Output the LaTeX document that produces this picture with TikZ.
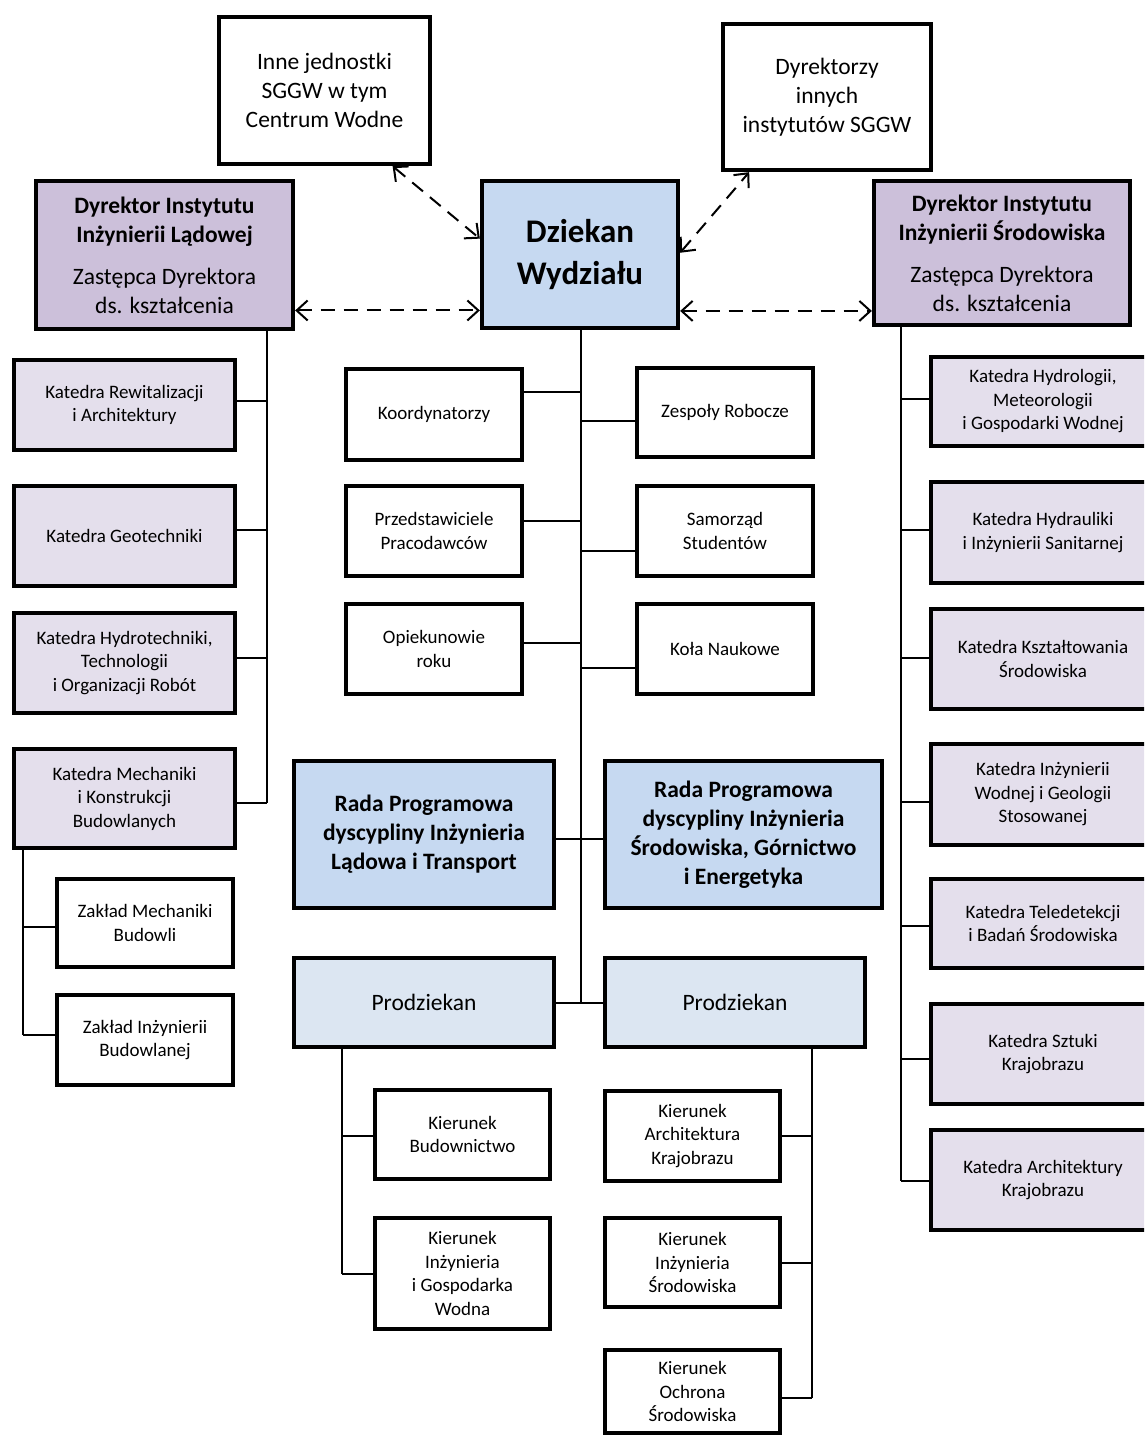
\documentclass[tikz,border=0pt]{standalone}
\usepackage{fontspec}
\setmainfont{Carlito}
\usetikzlibrary{arrows.meta}
\definecolor{purp}{HTML}{CCC0DA}
\definecolor{lpurp}{HTML}{E4DFEC}
\definecolor{dblue}{HTML}{C6D9F1}
\definecolor{lblue}{HTML}{DCE6F2}
\begin{document}
\begin{tikzpicture}[x=1pt,y=-1pt,
  bx/.style={draw, line width=4.3pt, rectangle, align=center, inner sep=0pt, fill=white,
    font=\fontsize{19}{23.5}\selectfont},
  wh/.style 2 args={minimum width=#1pt, minimum height=#2pt},
  med/.style={font=\fontsize{23.5}{29}\selectfont},
  medb/.style={font=\fontsize{23.5}{29}\selectfont\bfseries},
  conn/.style={line width=1.6pt},
  dar/.style={line width=2pt, dash pattern=on 14pt off 9pt,
    {Straight Barb[length=11pt,width=20pt]}-{Straight Barb[length=11pt,width=20pt]}}]
\useasboundingbox (0,0) rectangle (1144,1437);
\clip (0,0) rectangle (1144,1437);

% top level
\node[bx, med, wh={211}{147}] (inne) at (324.5,90.5) {Inne jednostki\\SGGW w tym\\Centrum Wodne};
\node[bx, med, wh={208}{146}] (dyr) at (827,97) {Dyrektorzy\\innych\\instytutów SGGW};
\node[bx, med, fill=purp, wh={257}{148}] (dirL) at (164.5,255)
  {\bfseries Dyrektor Instytutu\\\bfseries Inżynierii Lądowej\\[13pt]Zastępca Dyrektora\\ds. kształcenia};
\node[bx, med, fill=purp, wh={256}{144}] (dirR) at (1002,253)
  {\bfseries Dyrektor Instytutu\\\bfseries Inżynierii Środowiska\\[13pt]Zastępca Dyrektora\\ds. kształcenia};
\node[bx, fill=dblue, wh={196}{147}, font=\fontsize{33}{42}\selectfont\bfseries] (dziekan) at (580,254.5) {Dziekan\\Wydziału};

% left katedry
\node[bx, fill=lpurp, wh={221}{90}] (kRew) at (124.5,405) {Katedra Rewitalizacji\\i Architektury};
\node[bx, fill=lpurp, wh={221}{100}] (kGeo) at (124.5,536) {Katedra Geotechniki};
\node[bx, fill=lpurp, wh={221}{100}] (kHydro) at (124.5,663) {Katedra Hydrotechniki,\\Technologii\\i Organizacji Robót};
\node[bx, fill=lpurp, wh={221}{99}] (kMech) at (124.5,798.5) {Katedra Mechaniki\\i Konstrukcji\\Budowlanych};
\node[bx, wh={176}{88}] (zMech) at (145,923) {Zakład Mechaniki\\Budowli};
\node[bx, wh={176}{90}] (zInz) at (145,1040) {Zakład Inżynierii\\Budowlanej};

% middle
\node[bx, wh={176}{91}] (koord) at (434,414.5) {Koordynatorzy};
\node[bx, wh={176}{89}] (zesp) at (725,412.5) {Zespoły Robocze};
\node[bx, wh={176}{90}] (przed) at (434,531) {Przedstawiciele\\Pracodawców};
\node[bx, wh={176}{90}] (samo) at (725,531) {Samorząd\\Studentów};
\node[bx, wh={176}{90}] (opiek) at (434,649) {Opiekunowie\\roku};
\node[bx, wh={176}{90}] (kola) at (725,649) {Koła Naukowe};
\node[bx, medb, fill=dblue, wh={260}{147}] (radaL) at (424,834.5) {Rada Programowa\\dyscypliny Inżynieria\\Lądowa i Transport};
\node[bx, medb, fill=dblue, wh={277}{147}] (radaR) at (743.5,834.5) {Rada Programowa\\dyscypliny Inżynieria\\Środowiska, Górnictwo\\i Energetyka};
\node[bx, med, fill=lblue, wh={260}{89}] (prodL) at (424,1002.5) {Prodziekan};
\node[bx, med, fill=lblue, wh={260}{89}] (prodR) at (735,1002.5) {Prodziekan};
\node[bx, wh={175}{89}] (kBud) at (462.5,1134.5) {Kierunek\\Budownictwo};
\node[bx, wh={175}{111}] (kIGW) at (462.5,1273.5) {Kierunek\\Inżynieria\\i Gospodarka\\Wodna};
\node[bx, wh={175}{90}] (kAK) at (692.5,1136) {Kierunek\\Architektura\\Krajobrazu};
\node[bx, wh={175}{89}] (kIS) at (692.5,1262.5) {Kierunek\\Inżynieria\\Środowiska};
\node[bx, wh={175}{83}] (kOS) at (692.5,1391.5) {Kierunek\\Ochrona\\Środowiska};

% right katedry
\node[bx, fill=lpurp, wh={224}{89}] (kHydrol) at (1043,401.5) {Katedra Hydrologii,\\Meteorologii\\i Gospodarki Wodnej};
\node[bx, fill=lpurp, wh={224}{101}] (kHydra) at (1043,532.5) {Katedra Hydrauliki\\i Inżynierii Sanitarnej};
\node[bx, fill=lpurp, wh={224}{100}] (kKszt) at (1043,659) {Katedra Kształtowania\\Środowiska};
\node[bx, fill=lpurp, wh={224}{101}] (kIWG) at (1043,794.5) {Katedra Inżynierii\\Wodnej i Geologii\\Stosowanej};
\node[bx, fill=lpurp, wh={224}{89}] (kTele) at (1043,923.5) {Katedra Teledetekcji\\i Badań Środowiska};
\node[bx, fill=lpurp, wh={224}{100}] (kSzt) at (1043,1054) {Katedra Sztuki\\Krajobrazu};
\node[bx, fill=lpurp, wh={224}{100}] (kArch) at (1043,1180) {Katedra Architektury\\Krajobrazu};

% junction coordinates
\coordinate (L1) at (267,401); \coordinate (L2) at (267,530);
\coordinate (L3) at (267,658); \coordinate (L4) at (267,803);
\coordinate (S1) at (23,927); \coordinate (S2) at (23,1035);
\coordinate (C1) at (581,392); \coordinate (C2) at (581,421);
\coordinate (C3) at (581,521); \coordinate (C4) at (581,551);
\coordinate (C5) at (581,643); \coordinate (C6) at (581,668);
\coordinate (C7) at (581,839); \coordinate (C8) at (581,1003);
\coordinate (P1) at (342,1136); \coordinate (P2) at (342,1274);
\coordinate (Q1) at (812,1136); \coordinate (Q2) at (812,1263); \coordinate (Q3) at (812,1398);
\coordinate (R1) at (901,399); \coordinate (R2) at (901,530); \coordinate (R3) at (901,658);
\coordinate (R4) at (901,802); \coordinate (R5) at (901,926); \coordinate (R6) at (901,1059);
\coordinate (R7) at (901,1181);

% connectors
\begin{scope}[conn]
\draw (dirL.south -| L4) -- (L4);
\draw (kRew.east |- L1) -- (L1);
\draw (kGeo.east |- L2) -- (L2);
\draw (kHydro.east |- L3) -- (L3);
\draw (kMech.east |- L4) -- (L4);
\draw (kMech.south -| S2) -- (S2);
\draw (zMech.west |- S1) -- (S1);
\draw (zInz.west |- S2) -- (S2);
\draw (dziekan.south -| C8) -- (C8);
\draw (koord.east |- C1) -- (C1);
\draw (zesp.west |- C2) -- (C2);
\draw (przed.east |- C3) -- (C3);
\draw (samo.west |- C4) -- (C4);
\draw (opiek.east |- C5) -- (C5);
\draw (kola.west |- C6) -- (C6);
\draw (radaL.east |- C7) -- (radaR.west |- C7);
\draw (prodL.east |- C8) -- (prodR.west |- C8);
\draw (prodL.south -| P2) -- (P2);
\draw (kBud.west |- P1) -- (P1);
\draw (kIGW.west |- P2) -- (P2);
\draw (prodR.south -| Q3) -- (Q3);
\draw (kAK.east |- Q1) -- (Q1);
\draw (kIS.east |- Q2) -- (Q2);
\draw (kOS.east |- Q3) -- (Q3);
\draw (dirR.south -| R7) -- (R7);
\draw (kHydrol.west |- R1) -- (R1);
\draw (kHydra.west |- R2) -- (R2);
\draw (kKszt.west |- R3) -- (R3);
\draw (kIWG.west |- R4) -- (R4);
\draw (kTele.west |- R5) -- (R5);
\draw (kSzt.west |- R6) -- (R6);
\draw (kArch.west |- R7) -- (R7);
\end{scope}

% dashed arrows
\draw[dar] (inne.-48.5) -- (dziekan.171.7);
\draw[dar] (dziekan.1.5) -- (dyr.224);
\draw[dar] (dirL.-23.6) -- (dirL.-23.6 -| dziekan.west);
\draw[dar] (dziekan.east |- dirR.204.4) -- (dirR.204.4);
\end{tikzpicture}
\end{document}
